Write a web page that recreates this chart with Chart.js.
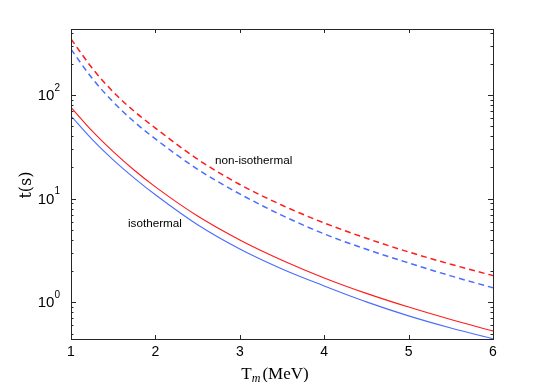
<!DOCTYPE html>
<html><head><meta charset="utf-8">
<script src="https://cdn.jsdelivr.net/npm/chart.js@4.4.1/dist/chart.umd.min.js"></script>
<style>html,body{margin:0;padding:0;background:#fff;}#wrap{width:545px;height:382px;}</style>
</head><body><div id="wrap"><canvas id="c" width="545" height="382"></canvas></div>
<script>
// ---- data ----
const temperatures = [1, 1.25, 1.5, 1.75, 2, 2.5, 3, 3.5, 4, 4.5, 5, 5.5, 6];
const nonIsoRed  = [347, 182, 107, 69.5, 48, 24, 13.7, 8.65, 5.83, 4.15, 3.06, 2.33, 1.81];
const nonIsoBlue = [276, 145, 85.6, 55, 37.7, 19.2, 11.1, 6.9, 4.57, 3.25, 2.40, 1.80, 1.38];
const isoRed     = [76, 45, 28.4, 18.8, 13.0, 6.8, 4.0, 2.55, 1.72, 1.22, 0.90, 0.683, 0.53];
const isoBlue    = [62.7, 37.4, 23.7, 15.8, 10.9, 5.6, 3.27, 2.1, 1.44, 1.01, 0.74, 0.565, 0.445];
const xTickValues = [1, 2, 3, 4, 5, 6];
const xTickLabels = ['1', '2', '3', '4', '5', '6'];
const yTickValues = [1, 10, 100];
const yTickBase = '10';
const yTickExponents = ['0', '1', '2'];
const labelTexts = ['non-isothermal', 'isothermal'];
const labelX = [2.706, 1.675];
const labelY = [23.2, 5.7];
const xRange = [1, 6];
const yRange = [0.443, 433];

const RED = '#ff1a1a', BLUE = '#4a6cff';
function pts(ys) { return temperatures.map((t, i) => ({x: t, y: ys[i]})); }

const overlay = {
  id: 'overlay',
  afterDraw(chart) {
    const ctx = chart.ctx, a = chart.chartArea;
    const xs = chart.scales.x, ys = chart.scales.y;
    ctx.save();
    // axes box
    ctx.strokeStyle = '#262626'; ctx.lineWidth = 1;
    ctx.strokeRect(Math.round(a.left) + 0.5, Math.round(a.top) + 0.5,
                   Math.round(a.right - a.left), Math.round(a.bottom - a.top));
    // x ticks (inward, top and bottom)
    ctx.beginPath();
    xTickValues.forEach(v => {
      const px = Math.round(xs.getPixelForValue(v)) + 0.5;
      if (px <= a.left + 1 || px >= a.right - 1) return;
      ctx.moveTo(px, a.bottom); ctx.lineTo(px, a.bottom - 4);
      ctx.moveTo(px, a.top); ctx.lineTo(px, a.top + 4);
    });
    // y ticks major + minor
    for (let d = -1; d <= 3; d++) {
      for (let k = 1; k <= 9; k++) {
        const v = k * Math.pow(10, d);
        if (v < yRange[0] || v > yRange[1]) continue;
        const py = Math.round(ys.getPixelForValue(v)) + 0.5;
        const len = k === 1 ? 5 : 2.5;
        ctx.moveTo(a.left, py); ctx.lineTo(a.left + len, py);
        ctx.moveTo(a.right, py); ctx.lineTo(a.right - len, py);
      }
    }
    ctx.stroke();
    // x tick labels
    ctx.fillStyle = '#000';
    ctx.font = '14px "Liberation Sans", Arial, sans-serif';
    ctx.textAlign = 'center'; ctx.textBaseline = 'middle';
    xTickValues.forEach((v, i) => {
      ctx.fillText(xTickLabels[i], xs.getPixelForValue(v), a.bottom + 13);
    });
    // y tick labels 10^n
    yTickValues.forEach((v, i) => {
      const py = ys.getPixelForValue(v);
      ctx.font = '10px "Liberation Sans", Arial, sans-serif';
      const ew = ctx.measureText(yTickExponents[i]).width;
      const right = a.left - 12;
      ctx.textBaseline = 'middle';
      ctx.textAlign = 'left';
      ctx.fillText(yTickExponents[i], right - ew + 1, py - 7);
      ctx.font = '15px "Liberation Sans", Arial, sans-serif';
      ctx.textAlign = 'right';
      ctx.fillText(yTickBase, right - ew + 1, py + 1);
    });
    // annotations
    ctx.font = '11.7px "Liberation Sans", Arial, sans-serif';
    ctx.textAlign = 'left'; ctx.textBaseline = 'middle';
    labelTexts.forEach((t, i) => {
      ctx.fillText(t, xs.getPixelForValue(labelX[i]), ys.getPixelForValue(labelY[i]));
    });
    // y axis title
    ctx.save();
    ctx.translate(27, 185);
    ctx.rotate(-Math.PI / 2);
    ctx.font = '16px "DejaVu Serif", "Liberation Serif", serif';
    ctx.textAlign = 'center'; ctx.textBaseline = 'middle';
    ctx.fillText('t(s)', 0, 0);
    ctx.restore();
    // x axis title T_m(MeV)
    const cx = 275, by = 379;
    ctx.textBaseline = 'alphabetic'; ctx.textAlign = 'left';
    ctx.font = '17px "Liberation Serif", serif';
    const wT = ctx.measureText('T').width;
    const wR = ctx.measureText('(MeV)').width;
    ctx.font = 'italic 12px "Liberation Serif", serif';
    const wm = ctx.measureText('m').width;
    let x0 = cx - (wT + wm + wR + 2) / 2;
    ctx.font = '17px "Liberation Serif", serif';
    ctx.fillText('T', x0, by);
    ctx.font = 'italic 12px "Liberation Serif", serif';
    ctx.fillText('m', x0 + wT, by + 3);
    ctx.font = '17px "Liberation Serif", serif';
    ctx.fillText('(MeV)', x0 + wT + wm + 2, by);
    ctx.restore();
  }
};

new Chart(document.getElementById('c'), {
  type: 'line',
  data: {
    datasets: [
      {data: pts(nonIsoRed), borderColor: RED, borderWidth: 1.5, borderDash: [6, 4]},
      {data: pts(nonIsoBlue), borderColor: BLUE, borderWidth: 1.5, borderDash: [6, 4]},
      {data: pts(isoRed), borderColor: RED, borderWidth: 1.1},
      {data: pts(isoBlue), borderColor: BLUE, borderWidth: 1.1}
    ]
  },
  options: {
    responsive: false, animation: false, devicePixelRatio: 1,
    layout: {padding: {left: 71, right: 52, top: 29, bottom: 43}},
    elements: {point: {radius: 0}, line: {cubicInterpolationMode: 'monotone', fill: false}},
    plugins: {legend: {display: false}, tooltip: {enabled: false}},
    scales: {
      x: {type: 'linear', min: xRange[0], max: xRange[1], display: false},
      y: {type: 'logarithmic', min: yRange[0], max: yRange[1], display: false}
    }
  },
  plugins: [overlay]
});
</script></body></html>
